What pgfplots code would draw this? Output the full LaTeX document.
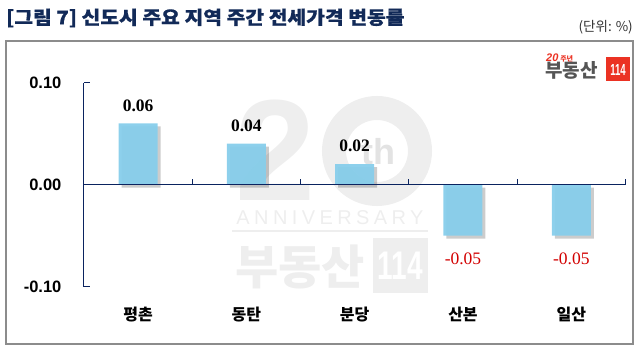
\documentclass[border=0pt]{standalone}
\usepackage{pgfplots}
\pgfplotsset{compat=1.18}
\usepackage{fontspec}
\usetikzlibrary{shadows}
\setmainfont{Liberation Sans}
\newfontfamily\kr{Noto Sans CJK KR}
\newfontfamily\serifb{Liberation Serif}
\definecolor{barc}{RGB}{135,206,235}
\definecolor{navyc}{RGB}{10,35,95}
\definecolor{titlec}{RGB}{18,42,88}
\definecolor{wmc}{RGB}{238,238,238}
\definecolor{framec}{RGB}{140,140,140}
\definecolor{redc}{RGB}{210,0,0}
\definecolor{logored}{RGB}{235,50,35}
\definecolor{logogray}{RGB}{85,85,85}
\begin{document}
\begin{tikzpicture}[x=1pt,y=1pt]
\path[use as bounding box] (0,0) rectangle (638,362);
% title
\node[anchor=west, inner sep=0pt, text=titlec] at (6,344) {\kr\bfseries\fontsize{18.5}{18.5}\selectfont\addfontfeature{FakeStretch=1.1,FakeBold=0.6}[그림 7] 신도시 주요 지역 주간 전세가격 변동률};
\node[anchor=east, inner sep=0pt, text=black!80] at (633,335) {\kr\fontsize{13.5}{13.5}\selectfont (단위: \%)};
% frame
\draw[framec, line width=1.3pt] (6,321) rectangle (633,18);
% watermark
\node[inner sep=0pt, text=wmc] at (276,212) {\bfseries\fontsize{144}{144}\selectfont 2};
\draw[wmc, line width=24pt] (377,211) circle (43);
\node[inner sep=0pt, text=black!11] at (378,210) {\bfseries\fontsize{36}{36}\selectfont th};
\node[inner sep=0pt, text=wmc] at (330,144) {\addfontfeature{LetterSpace=22}\fontsize{20}{20}\selectfont ANNIVERSARY};
\draw[wmc, line width=2pt] (232,131) -- (428,131);
\node[inner sep=0pt, text=wmc] at (300,95) {\kr\bfseries\fontsize{47}{47}\selectfont 부동산};
\fill[wmc] (373,124) rectangle (428,69);
\node[inner sep=0pt, text=white] at (400.5,96) {\bfseries\fontsize{40}{40}\selectfont\addfontfeature{FakeStretch=0.7}114};
% logo
\node[anchor=west, inner sep=0pt, text=logored] at (546,304.5) {\bfseries\itshape\fontsize{11}{11}\selectfont 20\,{\kr\upshape\fontsize{7}{7}\selectfont 주년}};
\node[anchor=west, inner sep=0pt, text=logogray] at (545,292) {\kr\bfseries\fontsize{19}{19}\selectfont 부동산};
\fill[logored] (606,305) rectangle (630,281);
\node[inner sep=0pt, text=white] at (618,292.5) {\bfseries\fontsize{16}{16}\selectfont\addfontfeature{FakeStretch=0.6}114};
\begin{axis}[
  at={(77.5,74)}, anchor=south west,
  scale only axis, width=541.5pt, height=204pt,
  xmin=-0.5, xmax=4.5, ymin=-0.1, ymax=0.1,
  axis x line=none,
  axis y line*=left,
  y axis line style={draw=navyc, line width=1pt, -},
  ytick={-0.1,0,0.1},
  yticklabels={-0.10,0.00,0.10},
  yticklabel style={font=\bfseries\fontsize{16.5}{16.5}\selectfont, text=black, xshift=-19pt},
  tick align=inside,
  major tick length=6pt,
  y tick style={navyc, line width=1pt},
  ybar, bar width=39pt, bar shift=0pt,
  clip=false,
]
\addplot[fill=barc, draw=none, fill opacity=0.95,
  drop shadow={shadow xshift=3pt, shadow yshift=-3pt, fill=black, opacity=0.2},
  nodes near coords, point meta=explicit symbolic,
  every node near coord/.append style={anchor=center, yshift=18pt, text=black, fill opacity=1, font=\serifb\bfseries\fontsize{17.5}{17.5}\selectfont}]
  coordinates {(0,0.06) [0.06] (1,0.04) [0.04] (2,0.02) [0.02]};
\addplot[fill=barc, draw=none, fill opacity=0.95,
  drop shadow={shadow xshift=3pt, shadow yshift=-3pt, fill=black, opacity=0.2},
  nodes near coords, point meta=explicit symbolic,
  every node near coord/.append style={anchor=center, yshift=-23pt, text=redc, fill opacity=1, font=\serifb\fontsize{17.5}{17.5}\selectfont}]
  coordinates {(3,-0.05) [-0.05] (4,-0.05) [-0.05]};
\draw[navyc, line width=1pt] (axis cs:-0.5,0) -- (axis cs:4.5,0);
\pgfplotsinvokeforeach{0.5,1.5,2.5,3.5,4.5}{\draw[navyc, line width=1pt] (axis cs:#1,0) -- ++(0pt,6pt);}
\node at (axis cs:0,-0.127) {\kr\bfseries\fontsize{16}{16}\selectfont 평촌};
\node at (axis cs:1,-0.127) {\kr\bfseries\fontsize{16}{16}\selectfont 동탄};
\node at (axis cs:2,-0.127) {\kr\bfseries\fontsize{16}{16}\selectfont 분당};
\node at (axis cs:3,-0.127) {\kr\bfseries\fontsize{16}{16}\selectfont 산본};
\node at (axis cs:4,-0.127) {\kr\bfseries\fontsize{16}{16}\selectfont 일산};
\end{axis}
\end{tikzpicture}
\end{document}
